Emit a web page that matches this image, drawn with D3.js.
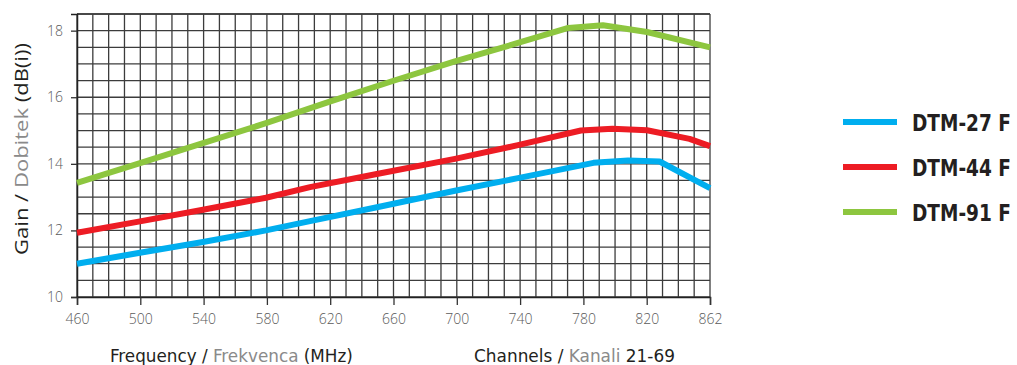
<!DOCTYPE html>
<html><head><meta charset="utf-8">
<script src="https://cdn.jsdelivr.net/npm/d3@7"></script>
<style>
html,body{margin:0;padding:0;background:#fff;}
svg{display:block;}
</style></head>
<body>
<svg id="chart" width="1017" height="365"></svg>
<script>
// ---- data ----
const seriesNames = ["DTM-27 F", "DTM-44 F", "DTM-91 F"];
const seriesColors = ["#00aeef", "#ed1c24", "#8dc63f"];
const freqBlue  = [460, 500, 540, 580, 608, 652, 700, 740, 788, 810, 830, 862];
const gainBlue  = [11.0, 11.33, 11.65, 12.0, 12.28, 12.71, 13.19, 13.57, 14.03, 14.1, 14.07, 13.27];
const freqRed   = [460, 500, 540, 580, 608, 652, 700, 740, 780, 800, 822, 849, 862];
const gainRed   = [11.93, 12.27, 12.62, 12.98, 13.3, 13.71, 14.15, 14.56, 15.0, 15.05, 15.01, 14.75, 14.53];
const freqGreen = [460, 500, 540, 580, 620, 660, 700, 740, 772, 794, 822, 862];
const gainGreen = [13.43, 14.02, 14.62, 15.22, 15.86, 16.48, 17.08, 17.63, 18.08, 18.16, 17.96, 17.5];
const xTickLabels = ["460","500","540","580","620","660","700","740","780","820","862"];
const yTickValues = [10, 12, 14, 16, 18];

// ---- layout ----
const svg = d3.select("#chart");
const L = 77, R = 710, T = 14, B = 297;
const x = d3.scaleLinear().domain([460, 862]).range([L, R]);
const y = d3.scaleLinear().domain([10, 18.5]).range([B, T]);

const xTickPos = d3.range(xTickLabels.length).map(k => 460 + k * (402 / (xTickLabels.length - 1)));
const xGrid = d3.range(41).map(k => 460 + k * (402 / 40));
const yGrid = d3.range(18).map(k => 10 + k * 0.5);

// grid
const g = svg.append("g");
g.selectAll("line.vg").data(xGrid).join("line")
  .attr("x1", d => x(d)).attr("x2", d => x(d)).attr("y1", y(18.5)).attr("y2", y(10))
  .attr("stroke", "#3c3c3c").attr("stroke-width", 1.3);
g.selectAll("line.hg").data(yGrid.concat([18.5])).join("line")
  .attr("x1", x(460)).attr("x2", x(862)).attr("y1", d => y(d)).attr("y2", d => y(d))
  .attr("stroke", "#3c3c3c").attr("stroke-width", 1.3);

// axes
const yAxis = d3.axisLeft(y).tickValues(yTickValues).tickSize(6).tickPadding(8).tickFormat(d3.format("d"));
const ya = svg.append("g").attr("transform", `translate(${L},0)`).call(yAxis);
const xAxis = d3.axisBottom(x).tickValues(xTickPos).tickSize(8).tickPadding(9)
  .tickFormat((d, i) => xTickLabels[i]);
const xa = svg.append("g").attr("transform", `translate(0,${B})`).call(xAxis);
[ya, xa].forEach(a => {
  a.select(".domain").attr("stroke", "#222").attr("stroke-width", 1.5);
  a.selectAll(".tick line").attr("stroke", "#333").attr("stroke-width", 1.3);
  a.selectAll(".tick text").attr("fill", "#5a5a5a")
    .style("font-family", "'Open Sans', sans-serif").style("font-weight", 300).style("font-size", "14px");
});

// lines
const line = d3.line().x(d => x(d[0])).y(d => y(d[1]));
const data = [
  d3.zip(freqBlue, gainBlue),
  d3.zip(freqRed, gainRed),
  d3.zip(freqGreen, gainGreen)
];
svg.append("g").selectAll("path").data(data).join("path")
  .attr("d", line).attr("fill", "none")
  .attr("stroke", (d, i) => seriesColors[i]).attr("stroke-width", 6)
  .attr("stroke-linejoin", "round");

// fit a text's width by horizontal scaling (keeps it real text)
function fitWidth(textSel, x0, y0, width, rotate) {
  const w = textSel.node().getComputedTextLength();
  const s = width / w;
  textSel.attr("transform", rotate
    ? `translate(${x0},${y0}) rotate(-90) scale(${s},1)`
    : `translate(${x0},${y0}) scale(${s},1)`);
}

// legend
const leg = svg.append("g");
const legY = [122, 167, 212];
seriesNames.forEach((n, i) => {
  leg.append("line").attr("x1", 843).attr("x2", 897).attr("y1", legY[i]).attr("y2", legY[i])
    .attr("stroke", seriesColors[i]).attr("stroke-width", 6);
  const t = leg.append("text")
    .style("font-family", "'DejaVu Sans Condensed', 'DejaVu Sans', sans-serif")
    .style("font-weight", "bold").style("font-size", "23px").attr("fill", "#231f20").text(n);
  fitWidth(t, 912, legY[i] + 9, 99, false);
});

// titles
const dark = "#231f20", gray = "#8a8a8a";
function rich(sel, parts) {
  parts.forEach(p => sel.append("tspan").attr("fill", p[1]).text(p[0]));
}
const yt = svg.append("text").attr("text-anchor", "middle")
  .style("font-family", "'Open Sans', sans-serif").style("font-size", "18px");
rich(yt, [["Gain / ", dark], ["Dobitek", gray], [" (dB(i))", dark]]);
fitWidth(yt, 28, 149, 212, true);

const xt1 = svg.append("text")
  .style("font-family", "'DejaVu Sans Condensed', 'DejaVu Sans', sans-serif").style("font-size", "18px");
rich(xt1, [["Frequency / ", dark], ["Frekvenca", gray], [" (MHz)", dark]]);
fitWidth(xt1, 110, 362, 243, false);

const xt2 = svg.append("text")
  .style("font-family", "'DejaVu Sans Condensed', 'DejaVu Sans', sans-serif").style("font-size", "18px");
rich(xt2, [["Channels / ", dark], ["Kanali", gray], [" 21-69", dark]]);
fitWidth(xt2, 474, 362, 201, false);
</script>
</body></html>
